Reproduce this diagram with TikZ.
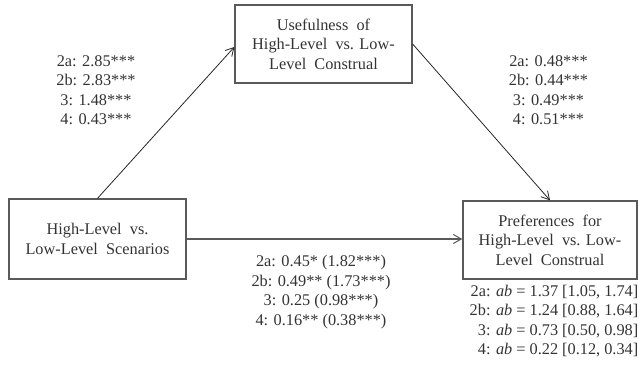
\documentclass[tikz,border=0pt]{standalone}
\usepackage{fontspec}
\setmainfont{Liberation Serif}
\usetikzlibrary{arrows.meta}
\definecolor{txt}{HTML}{333333}
\definecolor{boxline}{HTML}{5A5A5A}
\begin{document}
\begin{tikzpicture}[x=1pt,y=-1pt,
  every node/.style={font=\fontsize{16.3}{19.4}\selectfont, text=txt},
  varbox/.style={draw=boxline, line width=1.3pt, rectangle, align=center, inner sep=0pt},
  lab/.style={inner sep=0pt},
  conn/.style={draw=black!85, line width=0.8pt, -{Straight Barb[length=8pt,width=9pt,line width=0.8pt]}},
  hconn/.style={draw=boxline, line width=1.3pt, -{Straight Barb[length=8pt,width=9pt,line width=1pt]}}]
\useasboundingbox (0,0) rectangle (639,366);
\node[varbox, minimum width=177pt, minimum height=78pt] (tbox) at (323.5,44) {Usefulness\ \ of\\High-Level\ \ vs. Low-\\Level\ \ Construal};
\node[varbox, minimum width=177pt, minimum height=80pt] (lbox) at (97.5,239) {High-Level\ \ vs.\\Low-Level\ \ Scenarios};
\node[varbox, minimum width=174pt, minimum height=78pt] (rbox) at (550,240) {Preferences\ \ for\\High-Level\ \ vs. Low-\\Level\ \ Construal};
\draw[conn] (lbox.north) -- ([yshift=-3pt]tbox.west);
\draw[conn] (tbox.east) -- (rbox.north);
\draw[hconn] (lbox.east) -- (lbox.east -| rbox.west);
\node[lab, align=center] (la) at (96,90) {2a: 2.85***\\2b: 2.83***\\3: 1.48***\\4: 0.43***};
\node[lab, align=center] (lb) at (548.5,90) {2a: 0.48***\\2b: 0.44***\\3: 0.49***\\4: 0.51***};
\node[lab, align=center] (lc) at (321,292) {2a: 0.45* (1.82***)\\2b: 0.49** (1.73***)\\3: 0.25 (0.98***)\\4: 0.16** (0.38***)};
\node[lab, align=right, anchor=east] (ld) at (638.5,321) {2a: \textit{ab} = 1.37 [1.05, 1.74]\\2b: \textit{ab} = 1.24 [0.88, 1.64]\\3: \textit{ab} = 0.73 [0.50, 0.98]\\4: \textit{ab} = 0.22 [0.12, 0.34]};
\end{tikzpicture}
\end{document}
